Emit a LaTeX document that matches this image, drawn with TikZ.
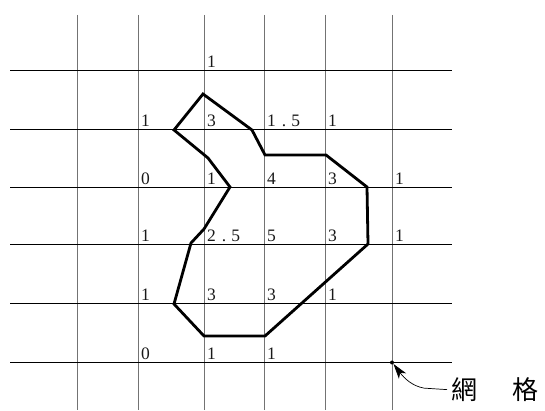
\documentclass[tikz,border=0pt]{standalone}
\usepackage{fontspec}
\setmainfont{Liberation Serif}
\newfontfamily\cjk{Noto Sans CJK TC}
\usetikzlibrary{arrows.meta}
\tikzset{
  vline/.style={draw=black!55,line width=0.9pt},
  hline/.style={draw=black,line width=0.7pt},
  contour/.style={draw=black,line width=2.8pt,line join=miter},
  num/.style={anchor=base west,inner sep=0pt,text=black!90,font=\fontsize{17.5}{17.5}\selectfont},
  lbl/.style={anchor=base west,inner sep=0pt,font=\cjk\fontsize{26}{26}\selectfont},
  pointer/.style={draw=black,line width=0.7pt,-{Stealth[length=15pt,width=9pt,inset=4pt]}}
}
\begin{document}
\begin{tikzpicture}[x=1pt,y=-1pt]
\useasboundingbox (0,0) rectangle (545,411);
% grid
\foreach \x in {77,138,204,264,325,392} \draw[vline] (\x,15) -- (\x,410);
\foreach \y in {70,129,187,244,303,362} \draw[hline] (10,\y) -- (452,\y);
% contour
\draw[contour] (203,94) -- (252,130) -- (265,155) -- (326,155) -- (367,187)
  -- (368,244) -- (265,336) -- (204,336) -- (174,304) -- (191,243) -- (204,229)
  -- (230,187) -- (208,158) -- (174,130) -- cycle;
% numbers
\node[num] (n02) at (207,67.5) {1};
\node[num] (n11) at (141,126.5) {1};
\node[num] (n12) at (207,126.5) {3};
\node[num] (n13) at (267,126.5) {1\hspace{6pt}.\hspace{5pt}5};
\node[num] (n14) at (328,126.5) {1};
\node[num] (n21) at (141,184.5) {0};
\node[num] (n22) at (207,184.5) {1};
\node[num] (n23) at (267,184.5) {4};
\node[num] (n24) at (328,184.5) {3};
\node[num] (n25) at (395,184.5) {1};
\node[num] (n31) at (141,241.5) {1};
\node[num] (n32) at (207,241.5) {2\hspace{6pt}.\hspace{5pt}5};
\node[num] (n33) at (267,241.5) {5};
\node[num] (n34) at (328,241.5) {3};
\node[num] (n35) at (395,241.5) {1};
\node[num] (n41) at (141,300.5) {1};
\node[num] (n42) at (207,300.5) {3};
\node[num] (n43) at (267,300.5) {3};
\node[num] (n44) at (328,300.5) {1};
\node[num] (n51) at (141,359.5) {0};
\node[num] (n52) at (207,359.5) {1};
\node[num] (n53) at (267,359.5) {1};
% label and pointer
\coordinate (g) at (392,362.5);
\fill (g) circle (2pt);
\node[lbl] (label) at (451,399.5) {網\hspace{35pt}格};
\draw[pointer] (label.west) ++(-4,0) coordinate (s) -- ++(-23,-1.5)
  .. controls (412,386) and (404,378) .. ([shift={(1.5,1.5)}]g);
\end{tikzpicture}
\end{document}
